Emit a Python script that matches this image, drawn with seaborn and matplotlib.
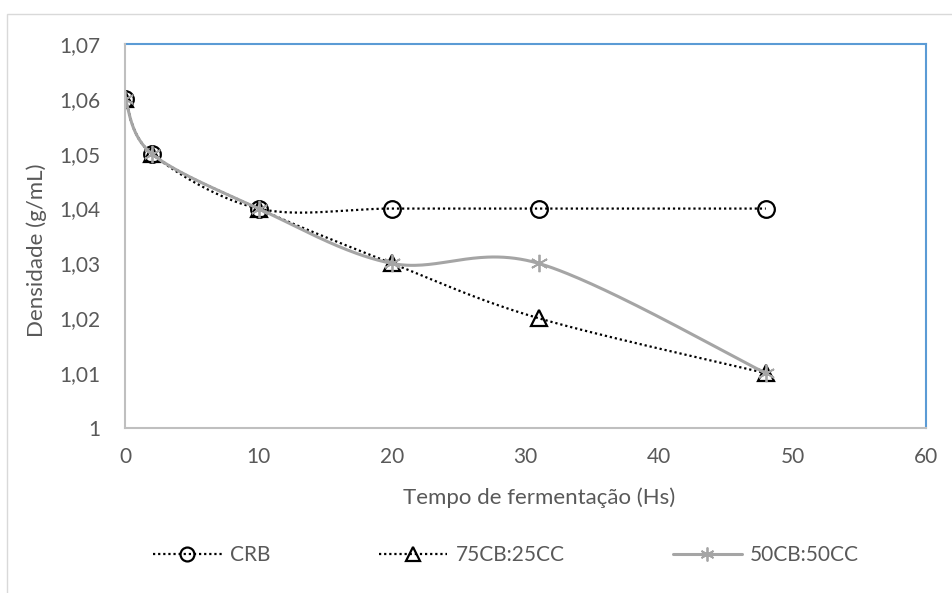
import numpy as np
import pandas as pd
import matplotlib
matplotlib.use("Agg")
import matplotlib.pyplot as plt
from matplotlib.lines import Line2D
import seaborn as sns

# ---- data ----
tempo = [0, 2, 10, 20, 31, 48]
crb = [1.06, 1.05, 1.04, 1.04, 1.04, 1.04]
cb75_cc25 = [1.06, 1.05, 1.04, 1.03, 1.02, 1.01]
cb50_cc50 = [1.06, 1.05, 1.04, 1.03, 1.03, 1.01]
series_names = ["CRB", "75CB:25CC", "50CB:50CC"]
x_ticks = [0, 10, 20, 30, 40, 50, 60]
y_ticks = [1.00, 1.01, 1.02, 1.03, 1.04, 1.05, 1.06, 1.07]


def smooth(xs, ys, n=60):
    """Excel-like smoothed line (Catmull-Rom via cubic Bezier)."""
    P = np.column_stack([xs, ys]).astype(float)
    ext = np.vstack([P[0], P, P[-1]])
    out = []
    t = np.linspace(0, 1, n)[:, None]
    for i in range(len(P) - 1):
        p0, p1, p2, p3 = ext[i], ext[i + 1], ext[i + 2], ext[i + 3]
        c1 = p1 + (p2 - p0) / 6.0
        c2 = p2 - (p3 - p1) / 6.0
        seg = ((1 - t) ** 3) * p1 + 3 * ((1 - t) ** 2) * t * c1 + 3 * (1 - t) * t ** 2 * c2 + t ** 3 * p2
        out.append(seg if i == 0 else seg[1:])
    s = np.vstack(out)
    return s[:, 0], s[:, 1]


sns.set_theme(style="white")
plt.rcParams["font.family"] = ["Lato", "DejaVu Sans"]
text_c = "#595959"

fig = plt.figure(figsize=(9.52, 5.93), dpi=100)
ax = fig.add_axes([125 / 952, 1 - 428 / 593, (926 - 125) / 952, (428 - 44) / 593])

# outer chart border
fig.patches.append(plt.Rectangle((7 / 952, -0.01), 1.02, 1 - 14 / 593 + 0.01,
                                 transform=fig.transFigure, fill=False,
                                 edgecolor="#D9D9D9", linewidth=1.0))

styles = [
    dict(color="black", ls=(0, (1, 1.3)), lw=1.6, marker="o", mfc="none", mec="black", ms=12, mew=1.6, z=3),
    dict(color="black", ls=(0, (1, 1.3)), lw=1.6, marker="^", mfc="none", mec="black", ms=12, mew=1.6, z=4),
    dict(color="#A5A5A5", ls="-", lw=2.2, marker=(6, 2, 0), mfc="#A5A5A5", mec="#A5A5A5", ms=12.5, mew=1.3, z=5),
]

for name, ys, st in zip(series_names, [crb, cb75_cc25, cb50_cc50], styles):
    sx, sy = smooth(tempo, ys)
    df = pd.DataFrame({"x": sx, "y": sy})
    sns.lineplot(data=df, x="x", y="y", ax=ax, sort=False, estimator=None,
                 color=st["color"], linestyle=st["ls"], linewidth=st["lw"], zorder=st["z"])
    pts = pd.DataFrame({"x": tempo, "y": ys})
    sns.lineplot(data=pts, x="x", y="y", ax=ax, sort=False, estimator=None,
                 linestyle="none", marker=st["marker"], markersize=st["ms"],
                 markerfacecolor=st["mfc"], markeredgecolor=st["mec"],
                 markeredgewidth=st["mew"], zorder=st["z"] + 1)

ax.set_xlim(0, 60)
ax.set_ylim(1.0, 1.07)
ax.set_xticks(x_ticks)
ax.set_xticklabels([str(v) for v in x_ticks])
ax.set_yticks(y_ticks)
ax.set_yticklabels(["1" if abs(v - 1) < 1e-9 else f"{v:.2f}".replace(".", ",") for v in y_ticks])
ax.tick_params(axis="both", length=0, labelsize=15, labelcolor=text_c)
ax.tick_params(axis="x", pad=14)
ax.tick_params(axis="y", pad=18)

for side in ["left", "bottom"]:
    ax.spines[side].set_color("#BFBFBF")
    ax.spines[side].set_linewidth(1.5)
for side in ["top", "right"]:
    ax.spines[side].set_color("#5B9BD5")
    ax.spines[side].set_linewidth(1.5)
ax.spines["left"].set_zorder(6)

ax.set_xlabel("Tempo de fermentação (Hs)", fontsize=16, color=text_c)
ax.set_ylabel("Densidade (g/mL)", fontsize=16, color=text_c)
ax.xaxis.set_label_coords((539 - 125) / 801, (428 - 498) / 384)
ax.xaxis.label.set_va("center")
ax.yaxis.set_label_coords((37 - 125) / 801, (428 - 250) / 384)
ax.yaxis.label.set_va("center")
ax.yaxis.label.set_ha("center")

handles = [
    Line2D([], [], color=st["color"], linestyle=st["ls"], linewidth=st["lw"],
           marker=st["marker"], markersize=10, markerfacecolor=st["mfc"],
           markeredgecolor=st["mec"], markeredgewidth=st["mew"])
    for st in styles
]
fig.legend(handles, series_names, loc="center", bbox_to_anchor=(506 / 952, 1 - 555 / 593),
           ncol=3, frameon=False, fontsize=15, labelcolor=text_c,
           handlelength=3.3, columnspacing=5.2, handletextpad=0.4)

fig.savefig("out.png", dpi=100, facecolor="white")
